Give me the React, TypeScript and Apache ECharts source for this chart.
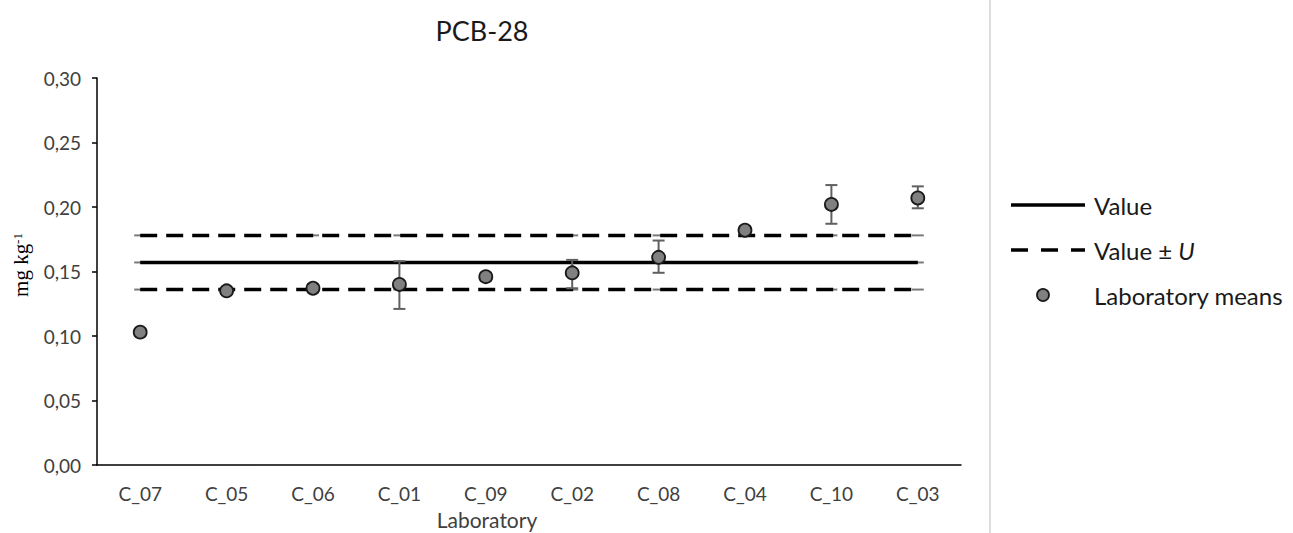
import React, { useEffect, useRef } from "react";
import * as echarts from "echarts";

const categories = ["C_07", "C_05", "C_06", "C_01", "C_09", "C_02", "C_08", "C_04", "C_10", "C_03"];
const labMeans = [0.103, 0.135, 0.137, 0.14, 0.146, 0.149, 0.161, 0.182, 0.202, 0.207];
const errLow = [0.101, 0.133, 0.134, 0.121, 0.143, 0.137, 0.149, 0.179, 0.187, 0.199];
const errHigh = [0.105, 0.137, 0.14, 0.158, 0.149, 0.159, 0.174, 0.185, 0.217, 0.216];
const assignedValue = 0.157;
const upperLimit = 0.178;
const lowerLimit = 0.136;
const yMin = 0;
const yMax = 0.3;
const yInterval = 0.05;

const FONT = "Lato";

export default function App() {
  const ref = useRef<HTMLDivElement>(null);

  useEffect(() => {
    if (!ref.current) return;
    const chart = echarts.init(ref.current, null, { renderer: "svg" });

    const refLineCaps: number[][] = [];
    categories.forEach((_, i) => {
      refLineCaps.push([i, assignedValue]);
      refLineCaps.push([i, upperLimit]);
      refLineCaps.push([i, lowerLimit]);
    });

    const option: any = {
      animation: false,
      backgroundColor: "#ffffff",
      grid: { left: 97, right: 332, top: 78, bottom: 68 },
      xAxis: {
        type: "category",
        data: categories,
        boundaryGap: true,
        axisLine: { show: true, lineStyle: { color: "#000000", width: 1.5 } },
        axisTick: { show: false },
        axisLabel: { fontFamily: FONT, fontSize: 19, color: "#404040", margin: 19 },
        splitLine: { show: false },
      },
      yAxis: {
        type: "value",
        min: yMin,
        max: yMax,
        interval: yInterval,
        axisLine: { show: true, lineStyle: { color: "#000000", width: 1.5 } },
        axisTick: { show: true, inside: false, length: 5, lineStyle: { color: "#000000", width: 1.5 } },
        axisLabel: {
          fontFamily: FONT,
          fontSize: 19,
          color: "#404040",
          margin: 16,
          formatter: (v: number) => v.toFixed(2).replace(".", ","),
        },
        splitLine: { show: false },
      },
      series: [
        {
          name: "caps",
          type: "custom",
          data: refLineCaps,
          z: 1,
          silent: true,
          renderItem: (params: any, api: any) => {
            const p = api.coord([api.value(0), api.value(1)]);
            return {
              type: "line",
              shape: { x1: p[0] - 6, y1: p[1], x2: p[0] + 6, y2: p[1] },
              style: { stroke: "#7a7a7a", lineWidth: 2 },
            };
          },
        },
        {
          name: "Value",
          type: "line",
          data: categories.map(() => assignedValue),
          symbol: "none",
          z: 2,
          lineStyle: { color: "#000000", width: 3.5, type: "solid" },
        },
        {
          name: "Value + U",
          type: "line",
          data: categories.map(() => upperLimit),
          symbol: "none",
          z: 2,
          lineStyle: { color: "#000000", width: 3.5, type: [17, 9] },
        },
        {
          name: "Value - U",
          type: "line",
          data: categories.map(() => lowerLimit),
          symbol: "none",
          z: 2,
          lineStyle: { color: "#000000", width: 3.5, type: [17, 9] },
        },
        {
          name: "Error",
          type: "custom",
          z: 3,
          data: categories.map((_, i) => [i, errLow[i], errHigh[i]]),
          renderItem: (params: any, api: any) => {
            const x = api.value(0);
            const lo = api.coord([x, api.value(1)]);
            const hi = api.coord([x, api.value(2)]);
            const half = 6;
            const st = { stroke: "#606060", lineWidth: 2 };
            return {
              type: "group",
              children: [
                { type: "line", shape: { x1: lo[0], y1: lo[1], x2: hi[0], y2: hi[1] }, style: st },
                { type: "line", shape: { x1: hi[0] - half, y1: hi[1], x2: hi[0] + half, y2: hi[1] }, style: st },
                { type: "line", shape: { x1: lo[0] - half, y1: lo[1], x2: lo[0] + half, y2: lo[1] }, style: st },
              ],
            };
          },
        },
        {
          name: "Laboratory means",
          type: "scatter",
          z: 4,
          data: labMeans,
          symbol: "circle",
          symbolSize: 13,
          itemStyle: { color: "#808080", borderColor: "#1a1a1a", borderWidth: 1.8, opacity: 1 },
        },
      ],
      graphic: [
        {
          type: "line",
          shape: { x1: 990, y1: 0, x2: 990, y2: 533 },
          style: { stroke: "#c6c6c6", lineWidth: 1.2 },
        },
        {
          type: "text",
          x: 482,
          y: 30,
          style: {
            text: "PCB-28",
            fontFamily: FONT,
            fontSize: 27,
            fill: "#1a1a1a",
            align: "center",
            verticalAlign: "middle",
          },
        },
        {
          type: "text",
          x: 487,
          y: 519,
          style: {
            text: "Laboratory",
            fontFamily: FONT,
            fontSize: 21,
            fill: "#404040",
            align: "center",
            verticalAlign: "middle",
          },
        },
        {
          type: "text",
          x: 21,
          y: 265,
          rotation: Math.PI / 2,
          style: {
            text: "{a|mg kg}{s|-1}",
            align: "center",
            verticalAlign: "middle",
            rich: {
              a: { fontFamily: "Liberation Serif", fontSize: 21, fill: "#000000" },
              s: { fontFamily: "Liberation Serif", fontSize: 13, fill: "#000000", verticalAlign: "top", padding: [0, 0, 8, 0] },
            },
          },
        },
        {
          type: "line",
          shape: { x1: 1011, y1: 205, x2: 1085, y2: 205 },
          style: { stroke: "#000000", lineWidth: 3.5 },
        },
        {
          type: "line",
          shape: { x1: 1011, y1: 250, x2: 1085, y2: 250 },
          style: { stroke: "#000000", lineWidth: 3.5, lineDash: [17, 13] },
        },
        {
          type: "circle",
          shape: { cx: 1043, cy: 295, r: 6 },
          style: { fill: "#808080", stroke: "#1a1a1a", lineWidth: 1.8 },
        },
        {
          type: "text",
          x: 1094,
          y: 205,
          style: { text: "Value", fontFamily: FONT, fontSize: 24, fill: "#1a1a1a", align: "left", verticalAlign: "middle" },
        },
        {
          type: "text",
          x: 1094,
          y: 250,
          style: {
            text: "{a|Value ± }{b|U}",
            align: "left",
            verticalAlign: "middle",
            rich: {
              a: { fontFamily: FONT, fontSize: 24, fill: "#1a1a1a" },
              b: { fontFamily: FONT, fontSize: 24, fill: "#1a1a1a", fontStyle: "italic" },
            },
          },
        },
        {
          type: "text",
          x: 1094,
          y: 295,
          style: {
            text: "Laboratory means",
            fontFamily: FONT,
            fontSize: 24,
            fill: "#1a1a1a",
            align: "left",
            verticalAlign: "middle",
          },
        },
      ],
    };

    chart.setOption(option);
    return () => {
      chart.dispose();
    };
  }, []);

  return (
    <div
      ref={ref}
      style={{ position: "fixed", left: 0, top: 0, width: 1293, height: 533, background: "#ffffff" }}
    />
  );
}
